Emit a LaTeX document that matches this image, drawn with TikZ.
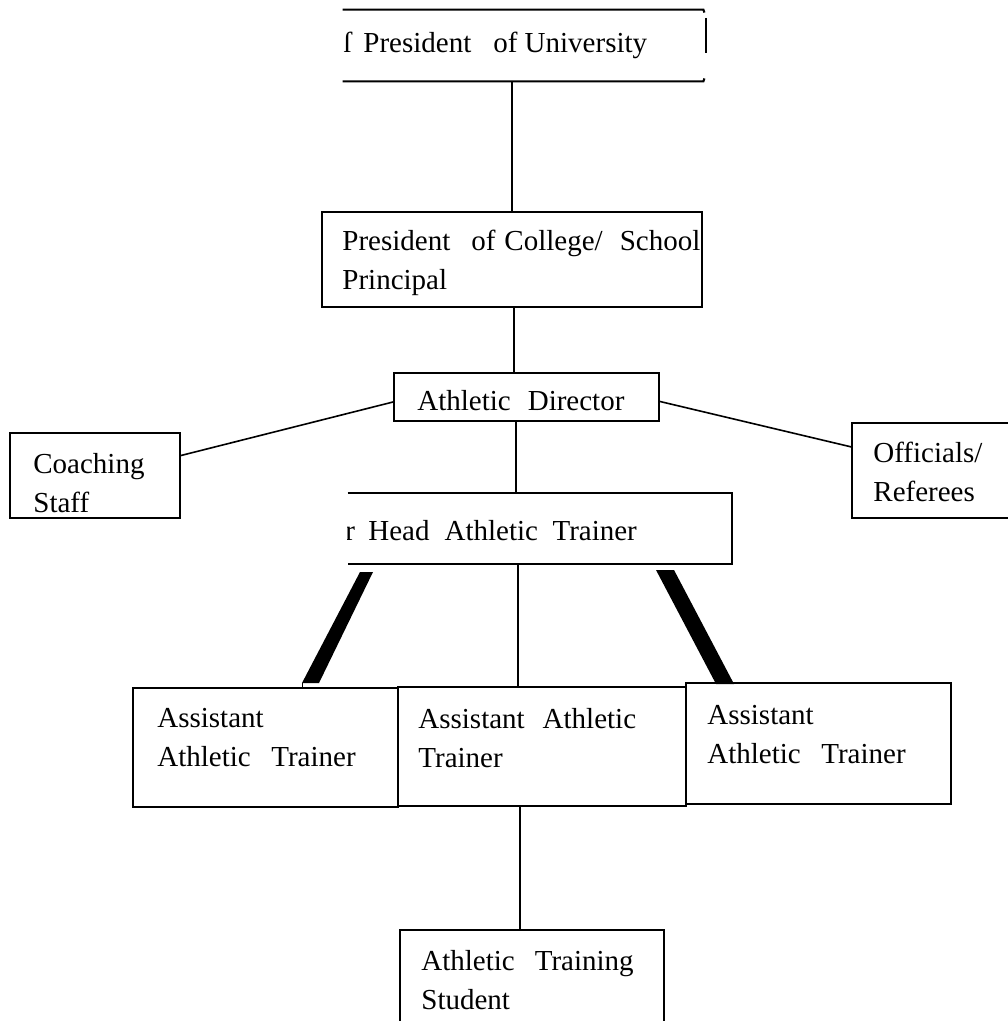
\documentclass[tikz,border=0pt]{standalone}
\usepackage{fontspec}
\setmainfont{Liberation Serif}
\usetikzlibrary{fit}
\tikzset{
  box/.style={draw, line width=1pt, inner sep=0pt, rectangle},
  nobox/.style={inner sep=0pt, rectangle},
  edge/.style={line width=1pt},
  conn/.style={line width=0.8pt},
  bar/.style={fill=black, draw=none},
  lbl/.style={anchor=base west, inner sep=0pt, font=\fontsize{14.5}{19.5}\selectfont}
}
\newcommand\twol[2]{\begin{tabular}[t]{@{}l@{}}#1\\#2\end{tabular}}
\begin{document}
\begin{tikzpicture}[x=0.5pt,y=-0.5pt]
\useasboundingbox[fill=white] (0,0) rectangle (1007,1021);

% President of University (open box)
\node[nobox, fit={(343,10) (703,81)}] (pu) {};
\draw[edge] (pu.north west) -- (pu.north east) -- ++(1,3);
\draw[edge] (pu.south west) -- (pu.south east) -- ++(1,-3);
\draw[line width=1.3pt] (706,18) -- (706,53);
\node[lbl] (put) at (343,53) {\makebox[10pt][l]{ſ}President\hspace{11pt}of University};

% President of College
\node[box, fit={(322,212) (702,307)}] (col) {};
\node[lbl] (colt) at (342,251) {\twol{President\hspace{10.5pt}of\hspace{4.5pt}College/\hspace{8.5pt}School}{Principal}};

% Athletic Director
\node[box, fit={(394,373) (659,421)}] (ad) {};
\node[lbl] (adt) at (417,410) {Athletic\hspace{8.5pt}Director};

% Coaching Staff
\node[box, fit={(10,433) (180,518)}] (cs) {};
\node[lbl] (cst) at (33,473) {\twol{Coaching}{Staff}};

% Officials / Referees (runs off the right edge)
\node[nobox, fit={(852,423) (1040,518)}] (of) {};
\draw[edge] (of.north east) -- (of.north west) -- (of.south west) -- (of.south east);
\node[lbl] (oft) at (873,462) {\twol{Officials/}{Referees}};

% Head Athletic Trainer (no left side)
\node[nobox, fit={(348,493) (732,564)}] (hat) {};
\draw[edge] (hat.north west) -- (hat.north east) -- (hat.south east) -- (hat.south west);
\begin{scope}
  \clip (347,480) rectangle (365,560);
  \node[lbl] (hatr) at (345,540) {r};
\end{scope}
\node[lbl] (hatt) at (368,540) {Head\hspace{7.5pt}Athletic\hspace{7.25pt}Trainer};

% Assistant Athletic Trainers
\node[box, fit={(133,688) (398,807)}] (al) {};
\node[box, fit={(398,687) (686,806)}] (am) {};
\node[box, fit={(686,683) (951,804)}] (ar) {};
\node[lbl] (alt) at (157,727) {\twol{Assistant}{Athletic\hspace{10.25pt}Trainer}};
\node[lbl] (amt) at (418,728) {\twol{Assistant\hspace{9pt}Athletic}{Trainer}};
\node[lbl] (art) at (707,724) {\twol{Assistant}{Athletic\hspace{10.25pt}Trainer}};

% Athletic Training Student (runs off the bottom edge)
\node[box, fit={(400,930) (664,1060)}] (st) {};
\node[lbl] (stt) at (421,970) {\twol{Athletic\hspace{10pt}Training}{Student}};

% vertical connectors
\coordinate (v1) at (512,0);
\coordinate (v2) at (514,0);
\coordinate (v3) at (516,0);
\coordinate (v4) at (518,0);
\coordinate (v5) at (520,0);
\draw[conn] (pu.south -| v1) -- (col.north -| v1);
\draw[conn] (col.south -| v2) -- (ad.north -| v2);
\draw[conn] (ad.south -| v3) -- (hat.north -| v3);
\draw[conn] (hat.south -| v4) -- (am.north -| v4);
\draw[conn] (am.south -| v5) -- (st.north -| v5);

% side connectors
\draw[conn] ([yshift=-2.5pt]ad.west) -- ([yshift=10pt]cs.east);
\draw[conn] ([yshift=-2.25pt]ad.east) -- ([yshift=11.75pt]of.west);

% heavy connectors to the outer assistants
\coordinate (la) at (360,572);
\coordinate (lb) at (373,572);
\coordinate (lc) at (319,683);
\coordinate (ld) at (302,683);
\fill[bar] (la) -- (lb) -- (lc) -- (ld) -- cycle;
\draw[line width=0.5pt] (ld) -- (al.north -| ld);
\coordinate (ra) at (656,570);
\coordinate (rb) at (674,570);
\coordinate (rc) at (734,684);
\coordinate (rd) at (716,684);
\fill[bar] (ra) -- (rb) -- (rc) -- (rd) -- cycle;
\end{tikzpicture}
\end{document}
